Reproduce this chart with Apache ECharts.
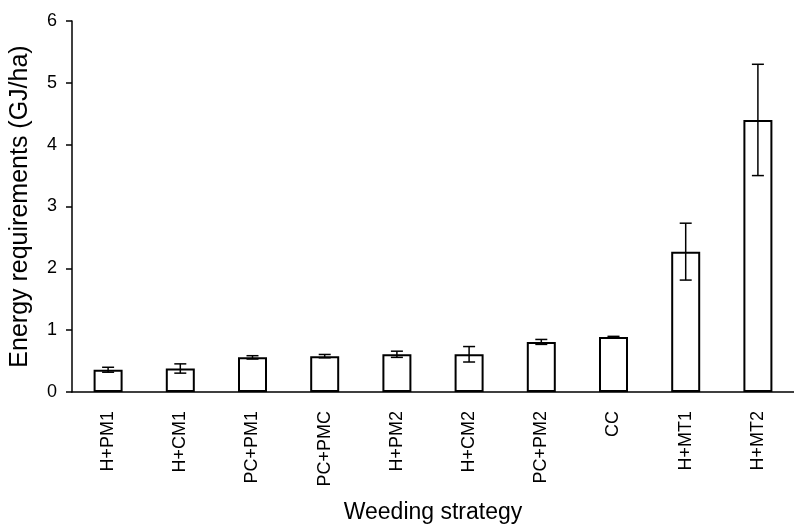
<!DOCTYPE html>
<html>
<head>
<meta charset="utf-8">
<script src="https://cdn.jsdelivr.net/npm/echarts@6/dist/echarts.min.js"></script>
<style>
  html, body { margin: 0; padding: 0; background: #fff; }
  #main { width: 794px; height: 529px; }
</style>
</head>
<body>
<div id="main"></div>
<script>
// weeding strategies and energy requirement (GJ/ha)
const categories = ['H+PM1', 'H+CM1', 'PC+PM1', 'PC+PMC', 'H+PM2', 'H+CM2', 'PC+PM2', 'CC', 'H+MT1', 'H+MT2']
const energy = [0.36, 0.38, 0.56, 0.58, 0.61, 0.61, 0.81, 0.89, 2.27, 4.40]
const errorSize = [0.04, 0.075, 0.027, 0.027, 0.05, 0.125, 0.04, 0.01, 0.46, 0.9]
const yTicks = [0, 1, 2, 3, 4, 5, 6]

const font = '"Liberation Sans", Arial, sans-serif'
const errorData = energy.map((v, i) => [i, v - errorSize[i], v + errorSize[i]])

const myChart = echarts.init(document.getElementById('main'))
myChart.setOption({
  animation: false,
  textStyle: { fontFamily: font },
  grid: { left: 72, top: 21, width: 728, bottom: 137 },
  xAxis: {
    type: 'category',
    data: categories,
    name: 'Weeding strategy',
    nameLocation: 'middle',
    nameGap: 109,
    nameTextStyle: { fontSize: 23, color: '#000', fontFamily: font },
    axisLine: { lineStyle: { color: '#000', width: 1.5 } },
    axisTick: { show: false },
    axisLabel: { rotate: 90, fontSize: 18, color: '#000', margin: 19, fontFamily: font }
  },
  yAxis: {
    type: 'value',
    min: yTicks[0],
    max: yTicks[yTicks.length - 1],
    interval: 1,
    name: 'Energy requirements (GJ/ha)',
    nameLocation: 'middle',
    nameRotate: 90,
    nameGap: 39,
    nameTextStyle: { fontSize: 25, color: '#000', fontFamily: font },
    splitLine: { show: false },
    axisLine: { show: true, lineStyle: { color: '#000', width: 1.5 } },
    axisTick: { show: true, inside: false, length: 6, lineStyle: { color: '#000', width: 1.5 } },
    axisLabel: { fontSize: 18, color: '#000', margin: 15, fontFamily: font }
  },
  series: [
    {
      type: 'bar',
      data: energy,
      barWidth: 29,
      itemStyle: { color: '#fff', borderColor: '#000', borderWidth: 2 }
    },
    {
      type: 'custom',
      z: 5,
      data: errorData,
      renderItem: (params, api) => {
        const lo = api.coord([api.value(0), api.value(1)])
        const hi = api.coord([api.value(0), api.value(2)])
        const half = 6
        const style = { stroke: '#000', lineWidth: 1.5 }
        return {
          type: 'group',
          children: [
            { type: 'line', shape: { x1: hi[0], y1: hi[1], x2: lo[0], y2: lo[1] }, style },
            { type: 'line', shape: { x1: hi[0] - half, y1: hi[1], x2: hi[0] + half, y2: hi[1] }, style },
            { type: 'line', shape: { x1: lo[0] - half, y1: lo[1], x2: lo[0] + half, y2: lo[1] }, style }
          ]
        }
      }
    }
  ]
})
</script>
</body>
</html>
